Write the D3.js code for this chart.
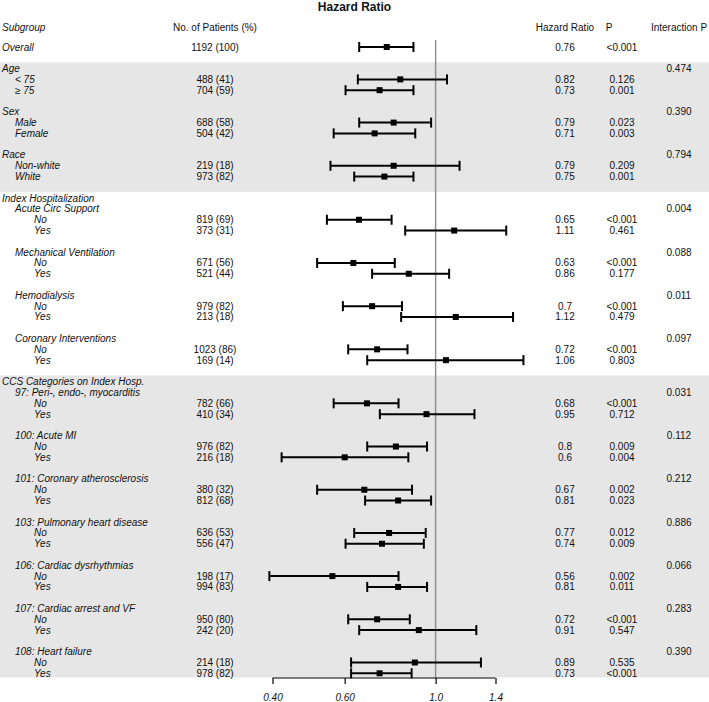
<!DOCTYPE html>
<html>
<head>
<meta charset="utf-8">
<script src="https://cdn.jsdelivr.net/npm/d3@7"></script>
<style>
  html, body { margin: 0; padding: 0; background: #fff; }
  svg { display: block; }
  text { font-family: "Liberation Sans", Arial, sans-serif; fill: #111; }
</style>
</head>
<body>
<div id="chart"></div>
<script>
// ---- Data ----
const title = "Hazard Ratio";
const headers = ["Subgroup", "No. of Patients (%)", "Hazard Ratio", "P", "Interaction P"];

// One entry per printed line ("" = spacer line)
const rowLabels = [
  "Overall", "",
  "Age", "< 75", "\u2265 75", "",
  "Sex", "Male", "Female", "",
  "Race", "Non-white", "White", "",
  "Index Hospitalization", "Acute Circ Support", "No", "Yes", "",
  "Mechanical Ventilation", "No", "Yes", "",
  "Hemodialysis", "No", "Yes", "",
  "Coronary Interventions", "No", "Yes", "",
  "CCS Categories on Index Hosp.", "97: Peri-, endo-, myocarditis", "No", "Yes", "",
  "100: Acute MI", "No", "Yes", "",
  "101: Coronary atherosclerosis", "No", "Yes", "",
  "103: Pulmonary heart disease", "No", "Yes", "",
  "106: Cardiac dysrhythmias", "No", "Yes", "",
  "107: Cardiac arrest and VF", "No", "Yes", "",
  "108: Heart failure", "No", "Yes"
];
const rowLevels = [
  0, 0,
  0, 1, 1, 0,
  0, 1, 1, 0,
  0, 1, 1, 0,
  0, 1, 2, 2, 0,
  1, 2, 2, 0,
  1, 2, 2, 0,
  1, 2, 2, 0,
  0, 1, 2, 2, 0,
  1, 2, 2, 0,
  1, 2, 2, 0,
  1, 2, 2, 0,
  1, 2, 2, 0,
  1, 2, 2, 0,
  1, 2, 2
];
const patients = [
  "1192 (100)", "",
  "", "488 (41)", "704 (59)", "",
  "", "688 (58)", "504 (42)", "",
  "", "219 (18)", "973 (82)", "",
  "", "", "819 (69)", "373 (31)", "",
  "", "671 (56)", "521 (44)", "",
  "", "979 (82)", "213 (18)", "",
  "", "1023 (86)", "169 (14)", "",
  "", "", "782 (66)", "410 (34)", "",
  "", "976 (82)", "216 (18)", "",
  "", "380 (32)", "812 (68)", "",
  "", "636 (53)", "556 (47)", "",
  "", "198 (17)", "994 (83)", "",
  "", "950 (80)", "242 (20)", "",
  "", "214 (18)", "978 (82)"
];
const hazardRatios = [
  "0.76", "",
  "", "0.82", "0.73", "",
  "", "0.79", "0.71", "",
  "", "0.79", "0.75", "",
  "", "", "0.65", "1.11", "",
  "", "0.63", "0.86", "",
  "", "0.7", "1.12", "",
  "", "0.72", "1.06", "",
  "", "", "0.68", "0.95", "",
  "", "0.8", "0.6", "",
  "", "0.67", "0.81", "",
  "", "0.77", "0.74", "",
  "", "0.56", "0.81", "",
  "", "0.72", "0.91", "",
  "", "0.89", "0.73"
];
const ciLower = [
  0.651, null,
  null, 0.646, 0.603, null,
  null, 0.651, 0.564, null,
  null, 0.554, 0.633, null,
  null, null, 0.543, 0.843, null,
  null, 0.514, 0.700, null,
  null, 0.594, 0.824, null,
  null, 0.612, 0.681, null,
  null, null, 0.564, 0.731, null,
  null, 0.681, 0.421, null,
  null, 0.514, 0.673, null,
  null, 0.633, 0.603, null,
  null, 0.393, 0.681, null,
  null, 0.612, 0.651, null,
  null, 0.622, 0.622
];
const ciUpper = [
  0.883, null,
  null, 1.066, 0.883, null,
  null, 0.975, 0.892, null,
  null, 1.144, 0.883, null,
  null, null, 0.781, 1.487, null,
  null, 0.795, 1.079, null,
  null, 0.828, 1.545, null,
  null, 0.854, 1.638, null,
  null, null, 0.812, 1.244, null,
  null, 0.953, 0.858, null,
  null, 0.876, 0.975, null,
  null, 0.946, 0.936, null,
  null, 0.812, 0.953, null,
  null, 0.865, 1.257, null,
  null, 1.290, 0.874
];
const pValues = [
  "<0.001", "",
  "", "0.126", "0.001", "",
  "", "0.023", "0.003", "",
  "", "0.209", "0.001", "",
  "", "", "<0.001", "0.461", "",
  "", "<0.001", "0.177", "",
  "", "<0.001", "0.479", "",
  "", "<0.001", "0.803", "",
  "", "", "<0.001", "0.712", "",
  "", "0.009", "0.004", "",
  "", "0.002", "0.023", "",
  "", "0.012", "0.009", "",
  "", "0.002", "0.011", "",
  "", "<0.001", "0.547", "",
  "", "0.535", "<0.001"
];
const interactionP = [
  "", "",
  "0.474", "", "", "",
  "0.390", "", "", "",
  "0.794", "", "", "",
  "", "0.004", "", "", "",
  "0.088", "", "", "",
  "0.011", "", "", "",
  "0.097", "", "", "",
  "", "0.031", "", "", "",
  "0.112", "", "", "",
  "0.212", "", "", "",
  "0.886", "", "", "",
  "0.066", "", "", "",
  "0.283", "", "", "",
  "0.390", "", ""
];
// shaded sections: first and last line of each
const shadedSections = [["Age", "White"], ["CCS Categories on Index Hosp.", "Yes"]];
const axisTicks = [0.40, 0.60, 1.0, 1.4];
const axisTickLabels = ["0.40", "0.60", "1.0", "1.4"];

// ---- Layout ----
const W = 709, H = 702;
const svg = d3.select("#chart").append("svg").attr("width", W).attr("height", H);

const nRows = rowLabels.length;
const y = d3.scaleLinear().domain([0, nRows - 1]).range([47, 673.3]);
const x = d3.scaleLog().domain([0.4, 1.4]).range([272.5, 495.5]);
const axisY = 678;

const colX = { label: [2, 15, 34], patients: 215, hr: 565, p: 622, pHead: 609, inter: 679 };

// shaded bands
const sectionStart = (name) => rowLabels.indexOf(name);
shadedSections.forEach(([a, b], k) => {
  const i0 = sectionStart(a);
  let i1 = rowLabels.indexOf(b, i0);
  if (k === shadedSections.length - 1) i1 = nRows - 1;
  const top = y(i0) - 6.3;
  const bottom = (i1 === nRows - 1) ? axisY - 0.5 : y(i1 + 2) - 6.3;
  svg.append("rect").attr("x", 0).attr("y", top).attr("width", W)
    .attr("height", bottom - top).attr("fill", "#e6e6e6");
});

// title
svg.append("text").attr("x", 354.5).attr("y", 11).attr("text-anchor", "middle")
  .style("font-weight", "bold").style("font-size", "12px").text(title);

// headers
const headY = 27.5;
const hdr = svg.append("g").style("font-size", "10px");
hdr.append("text").attr("x", colX.label[0]).attr("y", headY).attr("dy", "0.35em")
  .style("font-style", "italic").text(headers[0]);
hdr.append("text").attr("x", colX.patients).attr("y", headY).attr("dy", "0.35em")
  .attr("text-anchor", "middle").text(headers[1]);
hdr.append("text").attr("x", colX.hr).attr("y", headY).attr("dy", "0.35em")
  .attr("text-anchor", "middle").text(headers[2]);
hdr.append("text").attr("x", colX.pHead).attr("y", headY).attr("dy", "0.35em")
  .attr("text-anchor", "middle").text(headers[3]);
hdr.append("text").attr("x", colX.inter).attr("y", headY).attr("dy", "0.35em")
  .attr("text-anchor", "middle").text(headers[4]);

// reference line at HR = 1
svg.append("line").attr("x1", x(1)).attr("x2", x(1)).attr("y1", 40).attr("y2", axisY)
  .attr("stroke", "#8c8c8c").attr("stroke-width", 1.4);

// rows
const rows = d3.range(nRows).map(i => ({
  i, label: rowLabels[i], level: rowLevels[i], n: patients[i], hr: hazardRatios[i],
  lo: ciLower[i], hi: ciUpper[i], p: pValues[i], ip: interactionP[i]
}));

const tg = svg.append("g").style("font-size", "10px");
tg.selectAll("text.lab").data(rows.filter(d => d.label)).join("text")
  .attr("class", "lab").attr("x", d => colX.label[d.level]).attr("y", d => y(d.i))
  .attr("dy", "0.35em").style("font-style", "italic").text(d => d.label);
tg.selectAll("text.n").data(rows.filter(d => d.n)).join("text")
  .attr("class", "n").attr("x", colX.patients).attr("y", d => y(d.i))
  .attr("dy", "0.35em").attr("text-anchor", "middle").text(d => d.n);
tg.selectAll("text.hr").data(rows.filter(d => d.hr)).join("text")
  .attr("class", "hr").attr("x", colX.hr).attr("y", d => y(d.i))
  .attr("dy", "0.35em").attr("text-anchor", "middle").text(d => d.hr);
tg.selectAll("text.p").data(rows.filter(d => d.p)).join("text")
  .attr("class", "p").attr("x", colX.p).attr("y", d => y(d.i))
  .attr("dy", "0.35em").attr("text-anchor", "middle").text(d => d.p);
tg.selectAll("text.ip").data(rows.filter(d => d.ip)).join("text")
  .attr("class", "ip").attr("x", colX.inter).attr("y", d => y(d.i))
  .attr("dy", "0.35em").attr("text-anchor", "middle").text(d => d.ip);

// CI bars
const est = rows.filter(d => d.hr);
const cg = svg.append("g").attr("stroke", "#000").attr("stroke-width", 2);
cg.selectAll("line.ci").data(est).join("line").attr("class", "ci")
  .attr("x1", d => x(d.lo)).attr("x2", d => x(d.hi))
  .attr("y1", d => y(d.i)).attr("y2", d => y(d.i));
cg.selectAll("line.capL").data(est).join("line").attr("class", "capL")
  .attr("x1", d => x(d.lo)).attr("x2", d => x(d.lo))
  .attr("y1", d => y(d.i) - 5).attr("y2", d => y(d.i) + 5);
cg.selectAll("line.capR").data(est).join("line").attr("class", "capR")
  .attr("x1", d => x(d.hi)).attr("x2", d => x(d.hi))
  .attr("y1", d => y(d.i) - 5).attr("y2", d => y(d.i) + 5);
svg.append("g").selectAll("rect").data(est).join("rect")
  .attr("x", d => x(+d.hr) - 3).attr("y", d => y(d.i) - 3)
  .attr("width", 6).attr("height", 6).attr("fill", "#000");

// x axis
const axis = d3.axisBottom(x).tickValues(axisTicks)
  .tickFormat((d, k) => axisTickLabels[k]).tickSize(6).tickPadding(10);
const ag = svg.append("g").attr("transform", `translate(0,${axisY})`).call(axis);
ag.select(".domain").attr("stroke", "#000").attr("stroke-width", 1.2)
  .attr("d", `M${x(0.4)},0H${x(1.4)}`);
ag.selectAll(".tick line").attr("stroke", "#000").attr("stroke-width", 1.2);
ag.selectAll(".tick text").style("font-family", "'Liberation Sans', Arial, sans-serif")
  .style("font-size", "10px").style("font-style", "italic").attr("fill", "#111");
</script>
</body>
</html>
